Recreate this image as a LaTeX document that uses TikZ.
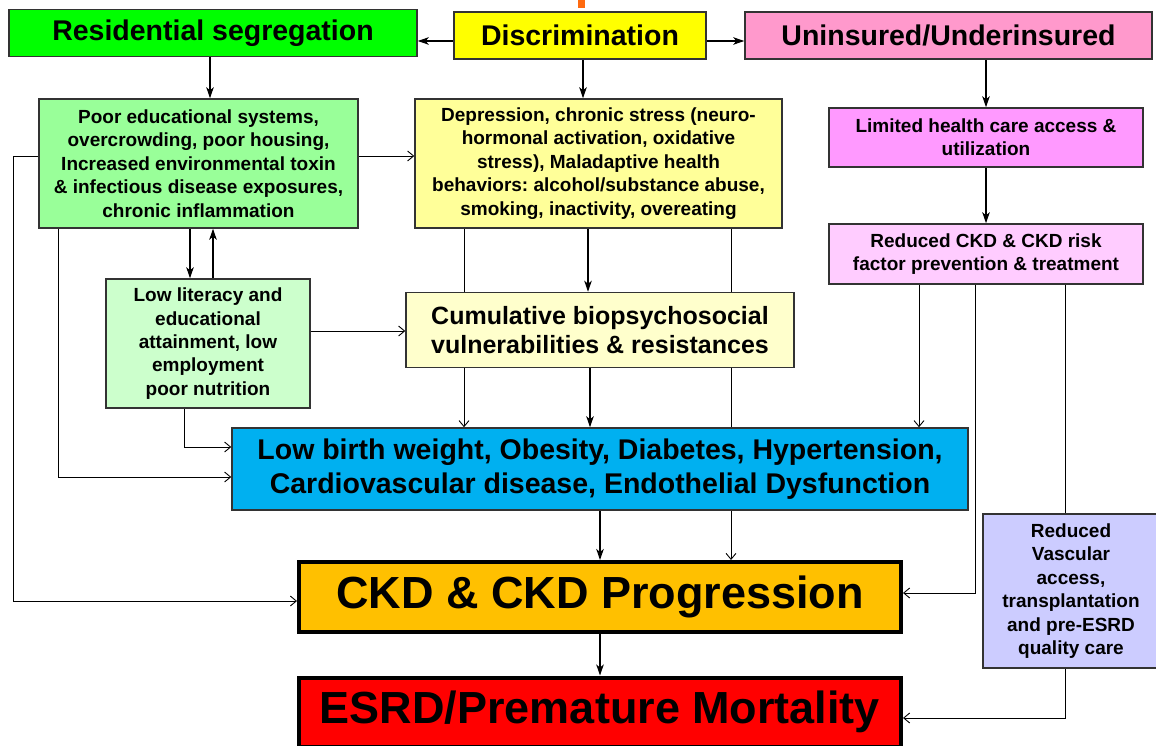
\documentclass[tikz,border=0pt]{standalone}
\usepackage{fontspec}
\setmainfont{Liberation Sans}
\usetikzlibrary{arrows.meta,backgrounds}
\frenchspacing
\definecolor{segGreen}{HTML}{00FF00}
\definecolor{discYellow}{HTML}{FFFF00}
\definecolor{insPink}{HTML}{FF99CC}
\definecolor{envGreen}{HTML}{99FF99}
\definecolor{stressYellow}{HTML}{FFFF99}
\definecolor{accessPink}{HTML}{FF99FF}
\definecolor{preventPink}{HTML}{FFCCFF}
\definecolor{litGreen}{HTML}{CCFFCC}
\definecolor{cumYellow}{HTML}{FFFFCC}
\definecolor{riskBlue}{HTML}{00B0F0}
\definecolor{ckdOrange}{HTML}{FFC000}
\definecolor{esrdRed}{HTML}{FF0000}
\definecolor{vascBlue}{HTML}{CCCCFF}
\definecolor{titleOrange}{HTML}{FF6A10}
\tikzset{
    box/.style={draw=black!80, line width=1.5pt, align=center, inner sep=0pt},
    bigbox/.style={box, draw=black, line width=4pt},
    headtext/.style={font=\bfseries\fontsize{28.5}{32}\selectfont},
    smalltext/.style={font=\bfseries\fontsize{19}{23.4}\selectfont},
    main/.style={line width=1.4pt, -{Stealth[length=11pt,width=7.5pt,inset=3pt]}},
    thin/.style={line width=0.9pt, -{Straight Barb[length=6pt,width=10pt]}},
    plain/.style={line width=0.9pt},
}
\begin{document}
\begin{tikzpicture}[x=1pt,y=-1pt]
    \useasboundingbox (0,0) rectangle (1156,746);
    \fill[titleOrange] (578,0) rectangle (585,8);
    % top row
    \node[box, headtext, fill=segGreen, minimum width=408pt, minimum height=47pt] (resseg) at (213,33) {Residential segregation};
    \node[box, headtext, fill=discYellow, minimum width=252pt, minimum height=47pt] (discr) at (580,35.5) {Discrimination};
    \node[box, headtext, fill=insPink, minimum width=407pt, minimum height=47pt] (uninsured) at (948.5,35.5) {Uninsured/Underinsured};
    % second row
    \node[box, smalltext, fill=envGreen, minimum width=319pt, minimum height=129pt] (pooredu) at (198.5,163.5)
        {Poor educational systems,\\ overcrowding, poor housing,\\ Increased environmental toxin\\ \& infectious disease exposures,\\ chronic inflammation};
    \node[box, smalltext, fill=stressYellow, minimum width=367pt, minimum height=129pt] (stress) at (598.5,163.5)
        {Depression, chronic stress (neuro-\\ hormonal activation, oxidative\\ stress), Maladaptive health\\ behaviors: alcohol/substance abuse,\\ smoking, inactivity, overeating};
    \node[box, smalltext, fill=accessPink, minimum width=314pt, minimum height=59pt] (access) at (986,137.5)
        {Limited health care access \&\\ utilization};
    \node[box, smalltext, fill=preventPink, minimum width=314pt, minimum height=60pt] (prevent) at (986,254)
        {Reduced CKD \& CKD risk\\ factor prevention \& treatment};
    % middle
    \node[box, smalltext, fill=litGreen, minimum width=204pt, minimum height=129pt] (lowlit) at (208,343.5)
        {Low literacy and\\ educational\\ attainment, low\\ employment\\ poor nutrition};
    \node[box, fill=cumYellow, minimum width=388pt, minimum height=75pt, font=\bfseries\fontsize{25}{29.5}\selectfont] (cumul) at (600,330)
        {Cumulative biopsychosocial\\ vulnerabilities \& resistances};
    \node[box, fill=riskBlue, minimum width=736pt, minimum height=82pt, font=\bfseries\fontsize{28.5}{34}\selectfont] (risk) at (600,469)
        {Low birth weight, Obesity, Diabetes, Hypertension,\\ Cardiovascular disease, Endothelial Dysfunction};
    % outcomes
    \node[bigbox, fill=ckdOrange, minimum width=602pt, minimum height=70pt, font=\bfseries\fontsize{45}{50}\selectfont] (ckd) at (600,597) {CKD \& CKD Progression};
    \node[bigbox, fill=esrdRed, minimum width=602pt, minimum height=69pt, font=\bfseries\fontsize{45}{50}\selectfont] (esrd) at (600,712) {ESRD/Premature Mortality};
    \node[box, smalltext, fill=vascBlue, minimum width=176pt, minimum height=154pt] (vasc) at (1071,591)
        {Reduced\\ Vascular\\ access,\\ transplantation\\ and pre-ESRD\\ quality care};
    \begin{pgfonlayer}{background}
        \fill[white] (0,0) rectangle (1156,746);
        % arrows of the top row
        \draw[main] ([yshift=-5.5pt]discr.west) -- ([yshift=-5.5pt]discr.west -| resseg.east);
        \draw[main] ([yshift=-5.5pt]discr.east) -- ([yshift=-5.5pt]discr.east -| uninsured.west);
        \draw[main] ([xshift=-3pt]resseg.south) -- ([xshift=-3pt]resseg.south |- pooredu.north);
        \draw[main] ([xshift=3pt]discr.south) -- ([xshift=3pt]discr.south |- stress.north);
        \draw[main] (access.north |- uninsured.south) -- (access.north);
        \draw[main] (access.south) -- (prevent.north);
        % left column
        \draw[thin] ([yshift=7.5pt]pooredu.east) -- ([yshift=7.5pt]pooredu.east -| stress.west);
        \draw[main] ([xshift=-18pt]lowlit.north |- pooredu.south) -- ([xshift=-18pt]lowlit.north);
        \draw[main] ([xshift=5pt]lowlit.north) -- ([xshift=5pt]lowlit.north |- pooredu.south);
        \draw[thin] ([yshift=7.5pt]pooredu.west) -- ++(-25,0) |- ([yshift=-4pt]ckd.west);
        \draw[thin] ([xshift=-140.5pt]pooredu.south) |- ([yshift=-8pt]risk.west);
        \draw[thin] ([xshift=-24pt]lowlit.south) |- ([yshift=22pt]risk.west);
        \draw[thin] ([yshift=12.5pt]lowlit.east) -- ([yshift=12.5pt]lowlit.east -| cumul.west);
        % middle column
        \draw[thin] ([xshift=-134.5pt]stress.south) -- ([xshift=-134.5pt]stress.south |- risk.north);
        \draw[main] ([xshift=-10.5pt]stress.south) -- ([xshift=-10.5pt]stress.south |- cumul.north);
        \draw[thin] ([xshift=132.5pt]stress.south) -- ([xshift=132.5pt]stress.south |- ckd.north);
        \draw[main] ([xshift=-10pt]cumul.south) -- ([xshift=-10pt]cumul.south |- risk.north);
        \draw[main] (risk.south) -- (ckd.north);
        \draw[main] (ckd.south) -- (esrd.north);
        % right column
        \draw[thin] ([xshift=-67pt]prevent.south) -- ([xshift=-67pt]prevent.south |- risk.north);
        \draw[thin] ([xshift=-11pt]prevent.south) |- ([yshift=4pt]ckd.east);
        \draw[plain] ([xshift=79pt]prevent.south) -- ([xshift=79pt]prevent.south |- vasc.north);
        \draw[thin] ([xshift=-6pt]vasc.south) |- ([yshift=-6pt]esrd.east);
    \end{pgfonlayer}
\end{tikzpicture}
\end{document}
